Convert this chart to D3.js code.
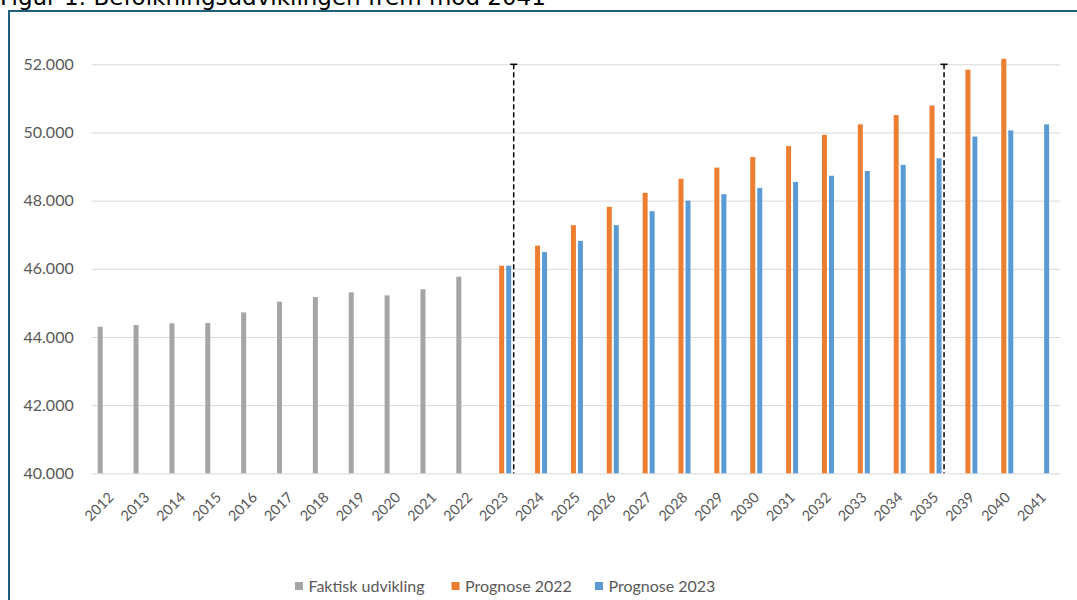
<!DOCTYPE html>
<html>
<head>
<meta charset="utf-8">
<script src="https://cdn.jsdelivr.net/npm/d3@7"></script>
<style>
  html, body { margin: 0; padding: 0; background: #fff; }
  svg { display: block; }
</style>
</head>
<body>
<script>
// ---- Data ----
const title = "Figur 1: Befolkningsudviklingen frem mod 2041";
const years = ["2012","2013","2014","2015","2016","2017","2018","2019","2020","2021","2022","2023",
               "2024","2025","2026","2027","2028","2029","2030","2031","2032","2033","2034","2035",
               "2039","2040","2041"];
const faktisk = [44300,44350,44400,44410,44720,45035,45170,45310,45220,45400,45770,null,
                 null,null,null,null,null,null,null,null,null,null,null,null,
                 null,null,null];
const prognose2022 = [null,null,null,null,null,null,null,null,null,null,null,46090,
                      46680,47280,47820,48230,48640,48970,49280,49600,49930,50240,50510,50790,
                      51840,52160,null];
const prognose2023 = [null,null,null,null,null,null,null,null,null,null,null,46090,
                      46490,46820,47280,47690,48000,48190,48370,48550,48730,48870,49050,49240,
                      49880,50060,50240];
const seriesNames = ["Faktisk udvikling","Prognose 2022","Prognose 2023"];
const seriesColors = ["#A5A5A5","#ED7D31","#5B9BD5"];
const yTicks = [40000,42000,44000,46000,48000,50000,52000];
const dividerYears = ["2023","2035"];

// ---- Layout ----
const W = 1077, H = 600;
const svg = d3.select("body").append("svg").attr("width", W).attr("height", H);

// frame
svg.append("rect").attr("x", 9).attr("y", 11).attr("width", W + 20).attr("height", H + 20)
  .attr("fill", "#fff").attr("stroke", "#1F5F80").attr("stroke-width", 2);

// title (partly cut off at the top, as in the reference)
svg.append("text").attr("x", 0).attr("y", 5)
  .attr("font-family", "DejaVu Sans, sans-serif").attr("font-size", 23).attr("fill", "#000")
  .text(title);

const x0 = d3.scaleBand().domain(years).range([91.7, 1060]).paddingInner(0).paddingOuter(0);
const keys = ["f","p22","p23"];
const x1 = d3.scaleBand().domain(keys).range([6, 25]).paddingInner(2/7).paddingOuter(0);
const y = d3.scaleLinear().domain([40000, 52000]).range([473.3, 64.3]);

const loc = d3.formatLocale({decimal: ",", thousands: ".", grouping: [3], currency: ["", ""]});
const fmt = loc.format(",.0f");

// gridlines + y labels
const yAxis = d3.axisLeft(y).tickValues(yTicks).tickFormat(fmt)
  .tickSize(-(x0.range()[1] - x0.range()[0])).tickPadding(18);
const gy = svg.append("g").attr("transform", `translate(${x0.range()[0]},0)`).call(yAxis);
gy.select(".domain").remove();
gy.selectAll(".tick line").attr("stroke", "#D9D9D9").attr("stroke-width", 1);
gy.selectAll(".tick text").attr("font-family", "Lato, sans-serif").attr("font-size", 16)
  .attr("fill", "#595959");

// bars
const seriesData = [faktisk, prognose2022, prognose2023];
const barsG = svg.append("g");
seriesData.forEach((vals, si) => {
  barsG.selectAll(null)
    .data(years.map((yr, i) => ({yr, v: vals[i]})).filter(d => d.v != null))
    .join("rect")
    .attr("x", d => x0(d.yr) + x1(keys[si]))
    .attr("width", x1.bandwidth())
    .attr("y", d => y(d.v))
    .attr("height", d => y(40000) - y(d.v))
    .attr("fill", seriesColors[si]);
});

// dashed dividers
dividerYears.forEach(yr => {
  const xx = x0(yr) + x1("p23") + x1.bandwidth() + 2.5;
  svg.append("line").attr("x1", xx).attr("x2", xx).attr("y1", y(52000)).attr("y2", y(40000))
    .attr("stroke", "#000").attr("stroke-width", 1.5).attr("stroke-dasharray", "5,3");
  svg.append("line").attr("x1", xx - 3.5).attr("x2", xx + 3.5).attr("y1", y(52000)).attr("y2", y(52000))
    .attr("stroke", "#000").attr("stroke-width", 1.5);
});

// x labels
const xAxis = d3.axisBottom(x0).tickSize(0).tickPadding(0);
const gx = svg.append("g").attr("transform", `translate(0,${y(40000)})`).call(xAxis);
gx.select(".domain").remove();
gx.selectAll(".tick text")
  .attr("font-family", "Lato, sans-serif").attr("font-size", 14.5).attr("fill", "#595959")
  .attr("text-anchor", "end").attr("dy", 0)
  .attr("transform", "translate(5,25) rotate(-45)");

// legend
const legendX = [295, 451.5, 595];
const lg = svg.append("g");
seriesNames.forEach((name, i) => {
  lg.append("rect").attr("x", legendX[i]).attr("y", 582).attr("width", 8).attr("height", 8)
    .attr("fill", seriesColors[i]);
  lg.append("text").attr("x", legendX[i] + 13.5).attr("y", 592)
    .attr("font-family", "Lato, sans-serif").attr("font-size", 16).attr("fill", "#595959")
    .text(name);
});
</script>
</body>
</html>
